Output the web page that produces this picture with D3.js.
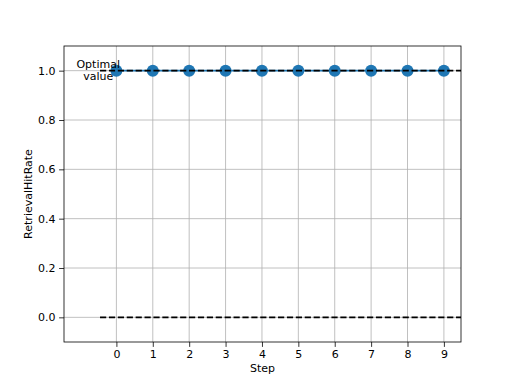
<!DOCTYPE html>
<html>
<head>
<meta charset="utf-8">
<script src="https://cdn.jsdelivr.net/npm/d3@7"></script>
<style>
  body { margin: 0; background: #fff; }
  text { font-family: "DejaVu Sans", sans-serif; fill: #000; }
</style>
</head>
<body>
<svg id="chart" width="512" height="384"></svg>
<script>
const steps = [0, 1, 2, 3, 4, 5, 6, 7, 8, 9];
const hitRate = [1, 1, 1, 1, 1, 1, 1, 1, 1, 1];
const refLines = [1.0, 0.0];
const refStart = -0.45;
const yTicks = [0.0, 0.2, 0.4, 0.6, 0.8, 1.0];
const annotation = ["Optimal", "value"];

const svg = d3.select("#chart");
const mLeft = 64, mRight = 461, mTop = 46, mBottom = 342;

let x = d3.scaleLinear().domain([-1.44, 9.47]).range([mLeft, mRight]);
let y = d3.scaleLinear().domain([-0.1, 1.1]).range([mBottom, mTop]);

svg.append("defs").append("clipPath").attr("id", "clip")
    .append("rect")
    .attr("x", mLeft).attr("y", mTop)
    .attr("width", mRight - mLeft).attr("height", mBottom - mTop);

// grid
let grid = svg.append("g").attr("stroke", "#b0b0b0").attr("stroke-width", 0.8);
steps.forEach(s => {
    grid.append("line")
        .attr("x1", x(s)).attr("x2", x(s))
        .attr("y1", mTop).attr("y2", mBottom);
});
yTicks.forEach(t => {
    grid.append("line")
        .attr("x1", mLeft).attr("x2", mRight)
        .attr("y1", y(t)).attr("y2", y(t));
});

let plot = svg.append("g").attr("clip-path", "url(#clip)");

// data line + markers
plot.append("path")
    .datum(steps.map((s, i) => [s, hitRate[i]]))
    .attr("fill", "none")
    .attr("stroke", "#1f77b4")
    .attr("stroke-width", 1.67)
    .attr("d", d3.line().x(d => x(d[0])).y(d => y(d[1])));

plot.selectAll(".pt").data(steps)
    .enter().append("circle")
    .attr("class", "pt")
    .attr("cx", d => x(d))
    .attr("cy", (d, i) => y(hitRate[i]))
    .attr("r", 6)
    .attr("fill", "#1f77b4");

// reference dashed lines
refLines.forEach(v => {
    plot.append("line")
        .attr("x1", x(refStart)).attr("x2", x(9.6))
        .attr("y1", y(v)).attr("y2", y(v))
        .attr("stroke", "#000")
        .attr("stroke-width", 1.67)
        .attr("stroke-dasharray", "6.2,2.7");
});

// axes
let xAxis = svg.append("g")
    .attr("transform", `translate(0,${mBottom})`)
    .call(d3.axisBottom(x).tickValues(steps).tickFormat(d3.format("d")).tickSizeOuter(0).tickSize(4.9).tickPadding(3.5));
let yAxis = svg.append("g")
    .attr("transform", `translate(${mLeft},0)`)
    .call(d3.axisLeft(y).tickValues(yTicks).tickFormat(d3.format(".1f")).tickSizeOuter(0).tickSize(4.9).tickPadding(3.5));
[xAxis, yAxis].forEach(a => {
    a.select(".domain").remove();
    a.selectAll("line").attr("stroke", "#000").attr("stroke-width", 0.8);
    a.selectAll("text").style("font-size", "11px").style("font-family", "DejaVu Sans");
});

svg.append("rect")
    .attr("x", mLeft).attr("y", mTop)
    .attr("width", mRight - mLeft).attr("height", mBottom - mTop)
    .attr("fill", "none").attr("stroke", "#000").attr("stroke-width", 0.8);

// annotation
let ann = svg.append("text")
    .attr("text-anchor", "middle")
    .style("font-size", "11px");
annotation.forEach((t, i) => {
    ann.append("tspan")
        .attr("x", x(-0.5))
        .attr("y", y(1.0) - 3 + i * 12.5)
        .text(t);
});

// labels
svg.append("text")
    .attr("x", (mLeft + mRight) / 2).attr("y", 372)
    .attr("text-anchor", "middle")
    .style("font-size", "11px")
    .text("Step");
svg.append("text")
    .attr("transform", `translate(32,${(mTop + mBottom) / 2}) rotate(-90)`)
    .attr("text-anchor", "middle")
    .style("font-size", "11px")
    .text("RetrievalHitRate");
</script>
</body>
</html>
